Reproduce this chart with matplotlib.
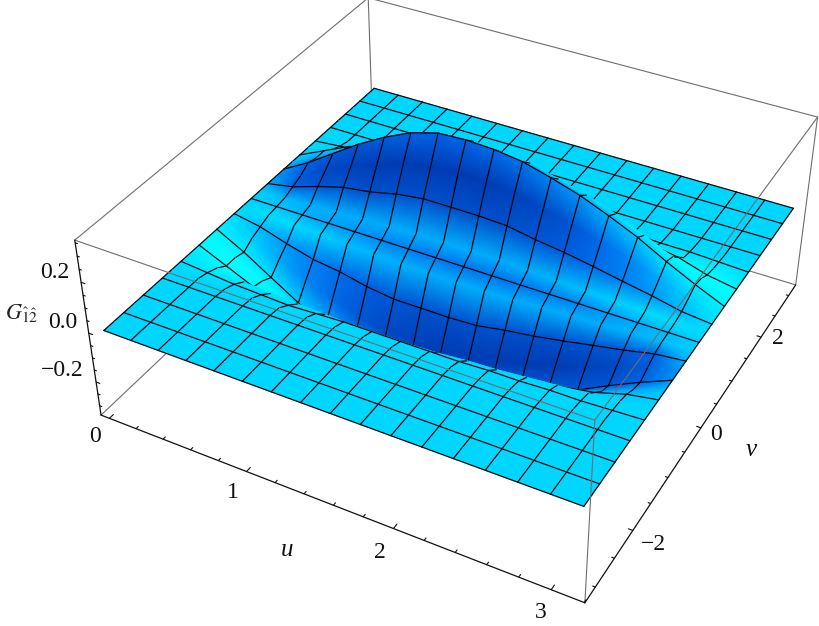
import numpy as np
import matplotlib
matplotlib.use('Agg')
import matplotlib.pyplot as plt
from matplotlib.colors import LinearSegmentedColormap
from mpl_toolkits.mplot3d import proj3d

# heights of the sheet for v >= 0, one row per half mesh cell (v = 0 first), u left to right
z_rows = [
    [0]*17,
    [0, .005, .01, .015, .02, .025, .03, .03, .03, .03, .025, .02, .015, .012, .008, .003, 0],
    [0, .02, .055, .085, .10, .125, .14, .14, .14, .135, .115, .10, .08, .058, .037, .012, 0],
    [0, .035, .09, .14, .18, .22, .24, .25, .245, .235, .205, .18, .145, .11, .07, .03, 0],
    [0, .06, .13, .20, .26, .31, .34, .345, .34, .325, .295, .26, .215, .165, .105, .05, 0],
    [0, .05, .11, .17, .23, .27, .30, .31, .30, .29, .26, .23, .19, .14, .09, .04, 0],
    [0, .05, .10, .13, .15, .16, .17, .18, .17, .16, .14, .12, .10, .075, .055, .02, 0],
    [0, .025, .045, .055, .06, .065, .07, .07, .07, .065, .055, .05, .04, .03, .02, .01, 0],
    [0, .01, .02, .025, .03, .025, .02, .02, .02, .02, .02, .015, .015, .01, .01, .005, 0],
    [0, 0, .005, .005, .005, .005, .005, .005, .005, .005, .005, .005, .005, .005, .003, 0, 0],
    [0]*17,
    [0]*17,
    [0]*17,
    [0]*17,
    [0]*17,
    [0]*17,
    [0]*17,
]

# shading of the same nodes: 0 is the flat cyan, 1 the deep blue, -1 the bright cyan
shade_rows = [
    [.05, .1, .25, .35, .42, .5, .55, .58, .6, .6, .58, .55, .5, .4, .3, .15, .05],
    [.05, .2, .25, .28, .28, .28, .28, .28, .28, .28, .26, .22, .15, .05, -.1, -.2, -.1],
    [.25, .7, .8, .82, .85, .85, .85, .85, .85, .85, .8, .75, .65, .55, .4, .2, -.2],
    [.4, .75, .9, .95, 1, 1, 1, 1, 1, .95, .9, .8, .65, .5, .3, .05, -.4],
    [.45, .7, .8, .8, .75, .7, .7, .68, .65, .6, .5, .4, .25, .1, -.2, -.5, -.7],
    [.15, .35, .35, .3, .2, .1, .05, 0, 0, 0, -.1, -.2, -.4, -.6, -.9, -1, -.9],
    [.05, .1, .1, .05, 0, 0, 0, 0, 0, 0, -.1, -.2, -.3, -.5, -.8, -1, -.8],
    [0, 0, 0, 0, 0, 0, 0, 0, 0, 0, 0, -.05, -.1, -.3, -.5, -.7, -.4],
    [0, 0, 0, 0, 0, 0, 0, 0, 0, 0, 0, 0, 0, -.05, -.15, -.3, -.2],
    [0]*17,
    [0]*17,
    [0]*17,
    [0]*17,
    [0]*17,
    [0]*17,
    [0]*17,
    [0]*17,
]

u_ticks = [0, .2, .4, .6, .8, 1, 1.2, 1.4, 1.6, 1.8, 2, 2.2, 2.4, 2.6, 2.8, 3, 3.2]
v_ticks = [-3, -2.5, -2, -1.5, -1, -.5, 0, .5, 1, 1.5, 2, 2.5, 3]
z_ticks = [-.3, -.25, -.2, -.15, -.1, -.05, 0, .05, .1, .15, .2, .25, .3, .35]
u_major = [0, 1, 2, 3]
v_major = [-2, 0, 2]
z_major = [-.2, 0, .2]

u_lim = (-.0628, 3.2044)
v_lim = (-3.267, 3.267)
z_lim = (-.34, .36)

W, H = 819, 626
SCALE, OX, OY = 4078.67, 463.65, 361.72

plt.rcParams['mathtext.fontset'] = 'stix'
plt.rcParams['font.family'] = ['Liberation Serif', 'DejaVu Serif']

fig = plt.figure(figsize=(W/100, H/100), dpi=100)
ax = fig.add_subplot(projection='3d')
ax.set_xlim(*u_lim)
ax.set_ylim(*v_lim)
ax.set_zlim(*z_lim)
ax.view_init(36.4, -61.6)
ax.set_proj_type('persp', focal_length=0.4636)
ax.set_box_aspect((1, 1, .4025))
ax.set_axis_off()
vx0, vx1 = ax.viewLim.intervalx
vy0, vy1 = ax.viewLim.intervaly
ax.set_position([(OX + vx0*SCALE)/W, (OY + vy0*SCALE)/H, (vx1 - vx0)*SCALE/W, (vy1 - vy0)*SCALE/H])
fig.canvas.draw()
M = ax.get_proj()


def to_px(u, v, z):
    shape = np.shape(u)
    xp, yp, _ = proj3d.proj_transform(np.ravel(u).astype(float), np.ravel(v).astype(float),
                                      np.ravel(z).astype(float), M)
    d = ax.transData.transform(np.c_[xp, yp])
    return d[:, 0].reshape(shape), H - d[:, 1].reshape(shape)


cmap = LinearSegmentedColormap.from_list('sheet', [
    (0, (0, 1, 1)),
    (.5, (0, .843, 1)),
    (.65, (0, .667, .988)),
    (.75, (0, .53, .96)),
    (.85, (0, .39, .90)),
    (.925, (0, .314, .80)),
    (1, (0, .235, .706))])

# whole sheet: the back half is typed, the front half mirrors it
z_up = np.array(z_rows, float)
s_up = np.array(shade_rows, float)
Z = np.vstack([-z_up[:0:-1], z_up])
S = np.vstack([s_up[:0:-1, ::-1], s_up])
u_nodes = np.linspace(0, np.pi, 17)
v_nodes = np.linspace(-np.pi, np.pi, 33)
U, V = np.meshgrid(u_nodes, v_nodes)
PX, PY = to_px(U, V, Z)

ov = fig.add_axes([0, 0, 1, 1])
ov.set_xlim(0, W)
ov.set_ylim(H, 0)
ov.axis('off')

mesh_kw = dict(color='black', lw=0.85, solid_capstyle='round')
zo = 5
# strips from the back to the front, each one paints over what lies behind it
for r in range(31, -1, -1):
    ov.pcolormesh(PX[r:r+2], PY[r:r+2], S[r:r+2], shading='gouraud', cmap=cmap, vmin=-1, vmax=1, zorder=zo)
    zo += 1
    for i in range(17):
        ov.plot(PX[r:r+2, i], PY[r:r+2, i], zorder=zo, **mesh_kw)
    if (r + 1) % 2 == 0:
        ov.plot(PX[r+1], PY[r+1], zorder=zo, **mesh_kw)
    zo += 1
ov.plot(PX[0], PY[0], zorder=zo, **mesh_kw)

# bounding box
u0, u1 = u_lim
v0, v1 = v_lim
z0, z1 = z_lim
grey = '#6e6e6e'


def seg(p, q, zorder, color=grey, lw=0.8):
    x, y = to_px([p[0], q[0]], [p[1], q[1]], [p[2], q[2]])
    ov.plot(x, y, color=color, lw=lw, zorder=zorder, solid_capstyle='round')


back_edges = [((u0, v0, z0), (u0, v1, z0)), ((u0, v1, z0), (u1, v1, z0)), ((u0, v1, z0), (u0, v1, z1))]
front_edges = [((u0, v0, z1), (u1, v0, z1)), ((u1, v0, z0), (u1, v0, z1)), ((u1, v0, z1), (u1, v1, z1)),
               ((u1, v1, z0), (u1, v1, z1)), ((u0, v0, z1), (u0, v1, z1)), ((u0, v1, z1), (u1, v1, z1))]
axis_edges = [((u0, v0, z0), (u1, v0, z0)), ((u1, v0, z0), (u1, v1, z0)), ((u0, v0, z0), (u0, v0, z1))]
for p, q in back_edges:
    seg(p, q, 1)
for p, q in front_edges:
    seg(p, q, 200)
for p, q in axis_edges:
    seg(p, q, 201, color='#111111', lw=0.9)

for t in u_ticks:
    ln = .08 if t in u_major else .045
    seg((t, v0, z0), (t, v0 + ln, z0), 201, color='#111111', lw=0.8)
for t in v_ticks:
    ln = .028 if t in v_major else .016
    seg((u1, t, z0), (u1 - ln, t, z0), 201, color='#111111', lw=0.8)
for t in z_ticks:
    ln = .028 if t in z_major else .016
    seg((u0, v0, t), (u0 + ln, v0, t), 201, color='#111111', lw=0.8)

tick_font = dict(fontsize=17, color='#111111', ha='center', va='center', zorder=210)
u_label_xy = [(95, 437), (233, 492), (380, 552), (541, 612)]
v_label_xy = [(653, 544), (716, 435), (778, 339)]
z_label_xy = [(62, 371), (63, 323), (55, 272)]
for t, (x, y) in zip(u_major, u_label_xy):
    ov.text(x, y, str(t), **tick_font)
for t, (x, y) in zip(v_major, v_label_xy):
    ov.text(x, y, str(t).replace('-', '\u2212'), **tick_font)
for t, (x, y) in zip(z_major, z_label_xy):
    ov.text(x, y, ('%.1f' % t).replace('-', '\u2212'), **tick_font)

ov.text(287, 550, 'u', fontsize=18, style='italic', ha='center', va='center', color='#111111', zorder=210)
ov.text(751, 450, 'v', fontsize=18, style='italic', ha='center', va='center', color='#111111', zorder=210)
ov.text(22, 313, r'$G_{\hat{1}\hat{2}}$', fontsize=16, ha='center', va='center', color='#222222', zorder=210)

fig.savefig('out.png', dpi=100)
